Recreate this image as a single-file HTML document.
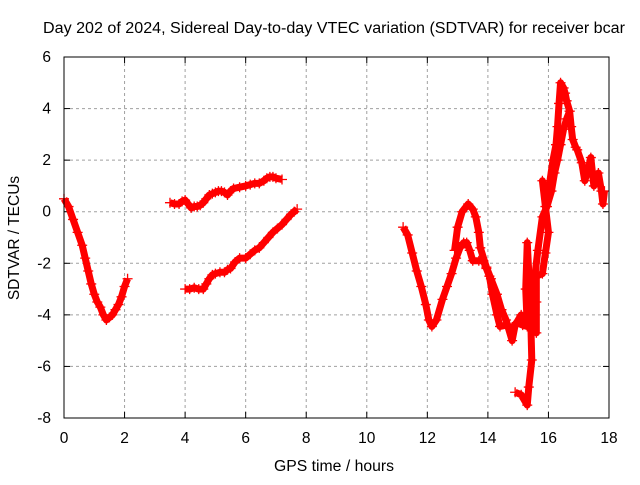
<!DOCTYPE html>
<html><head><meta charset="utf-8"><style>
body{margin:0;background:#fff;}
svg text{font-family:"Liberation Sans",sans-serif;font-size:15.5px;fill:#000;}
</style></head><body>
<svg id="chart" width="640" height="480" xmlns="http://www.w3.org/2000/svg">
<rect width="640" height="480" fill="#fff"/>
<text x="334" y="33" text-anchor="middle" textLength="582" lengthAdjust="spacingAndGlyphs">Day 202 of 2024, Sidereal Day-to-day VTEC variation (SDTVAR) for receiver bcar</text>
<text x="334" y="471" text-anchor="middle" textLength="120" lengthAdjust="spacingAndGlyphs">GPS time / hours</text>
<text transform="translate(19,238) rotate(-90)" text-anchor="middle">SDTVAR / TECUs</text>
<g id="grid"></g><g id="ticks"></g><g id="series"></g>
<rect x="64" y="57" width="545" height="361" fill="none" stroke="#000" stroke-width="1"/>
</svg>
<script>
const xTicks=[0,2,4,6,8,10,12,14,16,18];
const yTicks=[-8,-6,-4,-2,0,2,4,6];
const seg1=[[0,0.5],[0.15,0.2],[0.3,-0.3],[0.45,-0.8],[0.6,-1.3],[0.7,-1.8],[0.8,-2.3],[0.9,-2.8],[1.0,-3.2],[1.1,-3.5],[1.2,-3.7],[1.3,-4.0],[1.4,-4.2],[1.5,-4.1],[1.6,-4.0],[1.7,-3.8],[1.8,-3.6],[1.9,-3.3],[2.0,-2.9],[2.1,-2.6]];
const seg2=[[3.5,0.35],[3.65,0.3],[3.8,0.3],[3.9,0.4],[4.0,0.45],[4.1,0.3],[4.2,0.15],[4.3,0.2],[4.4,0.2],[4.5,0.25],[4.6,0.35],[4.7,0.5],[4.8,0.65],[4.9,0.7],[5.0,0.75],[5.1,0.8],[5.2,0.8],[5.3,0.75],[5.4,0.65],[5.5,0.8],[5.6,0.9],[5.8,0.95],[6.0,1.0],[6.15,1.05],[6.3,1.1],[6.45,1.1],[6.6,1.2],[6.7,1.3],[6.8,1.35],[6.9,1.35],[7.0,1.3],[7.2,1.25]];
const seg3=[[4.0,-3.0],[4.15,-3.0],[4.3,-2.95],[4.45,-3.0],[4.6,-3.0],[4.7,-2.8],[4.8,-2.6],[4.9,-2.45],[5.0,-2.4],[5.15,-2.35],[5.3,-2.35],[5.4,-2.25],[5.5,-2.2],[5.65,-1.95],[5.8,-1.8],[6.0,-1.8],[6.15,-1.65],[6.3,-1.5],[6.45,-1.4],[6.6,-1.2],[6.75,-1.0],[6.9,-0.8],[7.05,-0.65],[7.2,-0.5],[7.35,-0.3],[7.5,-0.1],[7.6,0.0],[7.7,0.1]];
const seg4=[[11.2,-0.6],[11.35,-0.9],[11.5,-1.6],[11.65,-2.3],[11.8,-2.9],[11.95,-3.6],[12.05,-4.2],[12.15,-4.45],[12.3,-4.2],[12.5,-3.4],[12.65,-2.9],[12.8,-2.4],[12.95,-1.8],[13.08,-1.4],[13.2,-1.2],[13.3,-1.2],[13.4,-1.5],[13.5,-1.9],[13.7,-1.9],[13.85,-1.9],[13.95,-2.2],[14.05,-2.5],[14.15,-3.2],[14.3,-4.0],[14.4,-4.45],[14.6,-4.4],[14.8,-4.5],[14.95,-4.3],[15.15,-4.4],[15.3,-4.45],[15.25,-3.0],[15.3,-1.2],[15.4,-3.5],[15.45,-5.75],[15.35,-6.8],[15.3,-7.5],[15.1,-7.1],[14.9,-7.0]];
const seg5=[[12.9,-1.5],[13.0,-0.6],[13.15,0.0],[13.35,0.3],[13.5,0.1],[13.6,-0.2],[13.7,-0.8],[13.75,-1.4],[13.95,-2.15],[14.1,-2.6],[14.3,-3.2],[14.45,-3.8],[14.6,-4.2],[14.8,-5.0],[14.9,-4.4],[15.1,-4.0],[15.3,-4.3],[15.5,-4.5],[15.6,-4.7],[15.6,-3.5],[15.6,-2.5],[15.8,-2.4],[15.9,-1.6],[16.0,-0.8],[15.9,0.2],[15.8,1.2],[15.95,0.45],[16.05,1.2],[16.15,2.0],[16.25,2.6],[16.3,3.3],[16.35,4.2],[16.4,5.0],[16.5,4.8],[16.55,4.6],[16.6,4.3],[16.7,3.9],[16.75,3.3],[16.8,2.8],[16.9,2.5],[16.95,2.4],[17.1,1.9],[17.2,1.2],[17.3,1.6],[17.4,2.1],[17.5,1.0],[17.65,1.5],[17.75,0.8],[17.8,0.3],[17.85,0.8]];
const seg6=[[15.3,-4.3],[15.5,-3.0],[15.65,-1.5],[15.8,-0.2],[15.95,0.2],[16.1,0.8],[16.2,1.5],[16.3,2.0],[16.4,2.6],[16.5,3.2],[16.6,3.6],[16.7,3.9]];
const NS="http://www.w3.org/2000/svg";
const X0=64,X1=609,Y0=418,Y1=57;
function xs(h){return X0+(h-0)/(18-0)*(X1-X0);}
function ys(v){return Y0-(v-(-8))/(6-(-8))*(Y0-Y1);}
function mk(tag,attrs,parent){const e=document.createElementNS(NS,tag);for(const k in attrs)e.setAttribute(k,attrs[k]);parent.appendChild(e);return e;}
const grid=document.getElementById('grid'),ticks=document.getElementById('ticks'),ser=document.getElementById('series');
xTicks.forEach(t=>{const x=xs(t);
 if(t>0&&t<18){const g=mk('line',{x1:x,x2:x,y1:Y1,y2:Y0,stroke:'#a0a0a0','stroke-dasharray':'3,3'},grid);
 
 }
 mk('line',{x1:x,x2:x,y1:Y0,y2:Y0-6,stroke:'#000'},ticks);mk('line',{x1:x,x2:x,y1:Y1,y2:Y1+6,stroke:'#000'},ticks);
 const l=mk('text',{x:x,y:443,'text-anchor':'middle'},ticks);l.textContent=t;
 
 });
yTicks.forEach(t=>{const y=ys(t);
 if(t>-8&&t<6){const g=mk('line',{x1:X0,x2:X1,y1:y,y2:y,stroke:'#a0a0a0','stroke-dasharray':'3,3'},grid);
 
 }
 mk('line',{x1:X0,x2:X0+6,y1:y,y2:y,stroke:'#000'},ticks);mk('line',{x1:X1,x2:X1-6,y1:y,y2:y,stroke:'#000'},ticks);
 const l=mk('text',{x:51,y:y+5,'text-anchor':'end'},ticks);l.textContent=t;
 
 });
[seg1,seg2,seg3,seg4,seg5,seg6].forEach((s,i)=>{
 const p=mk('polyline',{points:s.map(d=>xs(d[0])+','+ys(d[1])).join(' '),fill:'none',stroke:'#f00','stroke-width':7,'stroke-linejoin':'round'},ser);
 
 
 s.forEach(d=>{const x=xs(d[0]),y=ys(d[1]);
  const m=mk('path',{d:`M${x-5},${y}H${x+5}M${x},${y-5}V${y+5}`,stroke:'#f00','stroke-width':1.3},ser);
  
  });
});
</script>
</body></html>
